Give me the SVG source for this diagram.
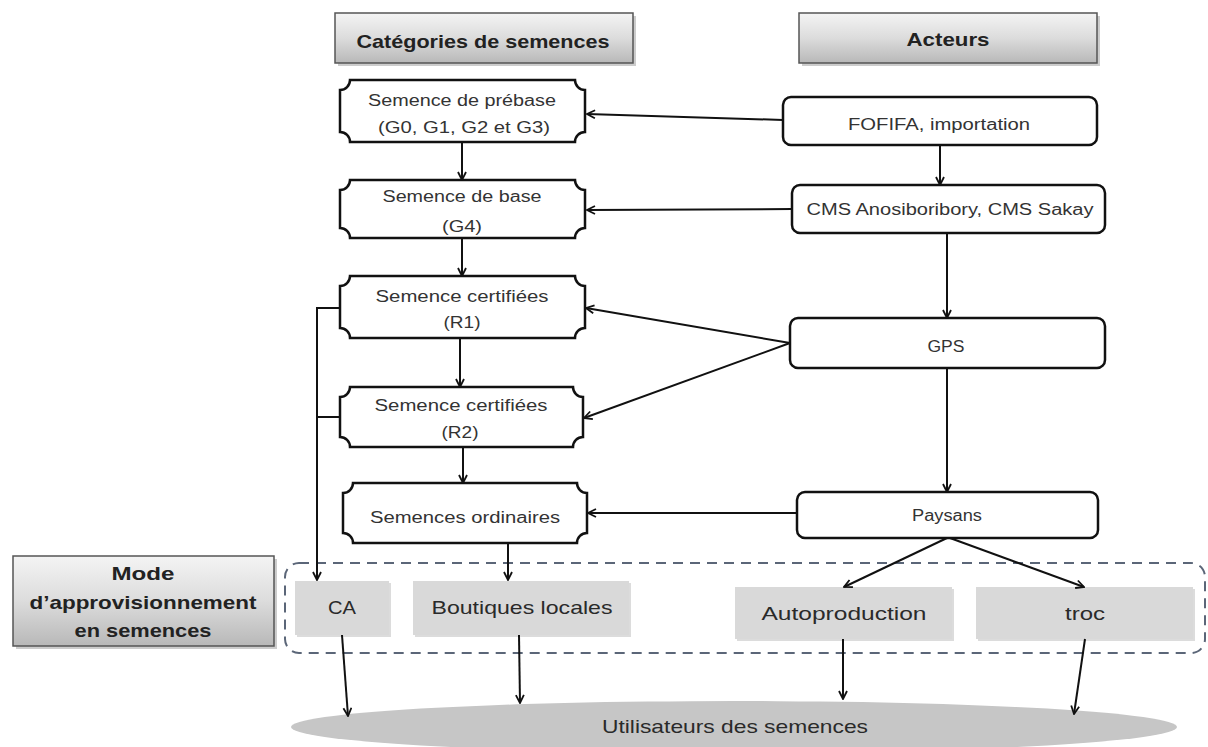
<svg xmlns="http://www.w3.org/2000/svg" width="1208" height="747" viewBox="0 0 1208 747">
<defs>
<linearGradient id="hdr" x1="0" y1="0" x2="0" y2="1">
<stop offset="0" stop-color="#f4f4f4"/>
<stop offset="0.5" stop-color="#dcdcdc"/>
<stop offset="1" stop-color="#b8b8b8"/>
</linearGradient>
<marker id="arr" viewBox="0 0 10 10" refX="9" refY="5" markerWidth="10" markerHeight="10" markerUnits="userSpaceOnUse" orient="auto">
<path d="M1,1 L9,5 L1,9" fill="none" stroke="#111" stroke-width="1.8"/>
</marker>
<style>
.hdr{fill:url(#hdr);stroke:#555;stroke-width:1.5}
.shadow{fill:#999;opacity:0.5}
.ht{font-family:"Liberation Sans",Arial,sans-serif;font-weight:bold;font-size:19px;fill:#222;text-anchor:middle}
.plq{fill:#fff;stroke:#111;stroke-width:2.5}
.act{fill:#fff;stroke:#111;stroke-width:2.5}
.nt{font-family:"Liberation Sans",Arial,sans-serif;font-size:16px;fill:#333;text-anchor:middle}
.gb{fill:#d9d9d9}
.gs{fill:#c4c4c4;opacity:0.6}
.bt{font-family:"Liberation Sans",Arial,sans-serif;font-size:19px;fill:#2a2a2a;text-anchor:middle}
.ln{fill:none;stroke:#111;stroke-width:2}
.ar{fill:none;stroke:#111;stroke-width:2;marker-end:url(#arr)}
</style>
</defs>

<!-- Headers -->
<g id="hdr-categories">
<rect class="shadow" x="338" y="16" width="298" height="50"/>
<rect class="hdr" x="335" y="13" width="298" height="50"/>
<text class="ht" x="483" y="48" textLength="253" lengthAdjust="spacingAndGlyphs">Catégories de semences</text>
</g>
<g id="hdr-acteurs">
<rect class="shadow" x="802" y="16" width="298" height="50"/>
<rect class="hdr" x="799" y="13" width="298" height="50"/>
<text class="ht" x="948" y="46" textLength="83" lengthAdjust="spacingAndGlyphs">Acteurs</text>
</g>
<g id="hdr-mode">
<rect class="shadow" x="16" y="559" width="261" height="90"/>
<rect class="hdr" x="13" y="556" width="261" height="90"/>
<text class="ht" x="143" y="580" textLength="63" lengthAdjust="spacingAndGlyphs">Mode</text>
<text class="ht" x="143" y="609" textLength="227" lengthAdjust="spacingAndGlyphs">d’approvisionnement</text>
<text class="ht" x="143" y="637" textLength="137" lengthAdjust="spacingAndGlyphs">en semences</text>
</g>

<!-- Dashed grouping -->
<g id="group-mode">
<rect x="285" y="563" width="920" height="90" rx="14" fill="none" stroke="#5b6678" stroke-width="2" stroke-dasharray="10 7"/>
</g>

<!-- Category nodes -->
<g id="n-prebase">
<path class="plq" d="M350,80 H575 A10,10 0 0 0 585,90 V132 A10,10 0 0 0 575,142 H350 A10,10 0 0 0 340,132 V90 A10,10 0 0 0 350,80 Z"/>
<text class="nt" x="462" y="106" textLength="188" lengthAdjust="spacingAndGlyphs">Semence de prébase</text>
<text class="nt" x="464" y="133" textLength="172" lengthAdjust="spacingAndGlyphs">(G0, G1, G2 et G3)</text>
</g>
<g id="n-base">
<path class="plq" d="M350,180 H575 A10,10 0 0 0 585,190 V228 A10,10 0 0 0 575,238 H350 A10,10 0 0 0 340,228 V190 A10,10 0 0 0 350,180 Z"/>
<text class="nt" x="462" y="202" textLength="159" lengthAdjust="spacingAndGlyphs">Semence de base</text>
<text class="nt" x="462" y="232" textLength="40" lengthAdjust="spacingAndGlyphs">(G4)</text>
</g>
<g id="n-r1">
<path class="plq" d="M350,276 H575 A10,10 0 0 0 585,286 V328 A10,10 0 0 0 575,338 H350 A10,10 0 0 0 340,328 V286 A10,10 0 0 0 350,276 Z"/>
<text class="nt" x="462" y="302" textLength="173" lengthAdjust="spacingAndGlyphs">Semence certifiées</text>
<text class="nt" x="462" y="328" textLength="37" lengthAdjust="spacingAndGlyphs">(R1)</text>
</g>
<g id="n-r2">
<path class="plq" d="M350,387 H573 A10,10 0 0 0 583,397 V437 A10,10 0 0 0 573,447 H350 A10,10 0 0 0 340,437 V397 A10,10 0 0 0 350,387 Z"/>
<text class="nt" x="461" y="411" textLength="173" lengthAdjust="spacingAndGlyphs">Semence certifiées</text>
<text class="nt" x="460" y="438" textLength="37" lengthAdjust="spacingAndGlyphs">(R2)</text>
</g>
<g id="n-ordinaires">
<path class="plq" d="M353,483 H577 A10,10 0 0 0 587,493 V533 A10,10 0 0 0 577,543 H353 A10,10 0 0 0 343,533 V493 A10,10 0 0 0 353,483 Z"/>
<text class="nt" x="465" y="523" textLength="190" lengthAdjust="spacingAndGlyphs">Semences ordinaires</text>
</g>

<!-- Actor nodes -->
<g id="n-fofifa">
<rect class="act" x="783" y="97" width="314" height="48" rx="8"/>
<text class="nt" x="939" y="130" textLength="182" lengthAdjust="spacingAndGlyphs">FOFIFA, importation</text>
</g>
<g id="n-cms">
<rect class="act" x="792" y="185" width="313" height="48" rx="8"/>
<text class="nt" x="950" y="215" textLength="287" lengthAdjust="spacingAndGlyphs">CMS Anosiboribory, CMS Sakay</text>
</g>
<g id="n-gps">
<rect class="act" x="790" y="318" width="315" height="50" rx="8"/>
<text class="nt" x="946" y="352" textLength="37" lengthAdjust="spacingAndGlyphs">GPS</text>
</g>
<g id="n-paysans">
<rect class="act" x="797" y="492" width="301" height="46" rx="8"/>
<text class="nt" x="947" y="521" textLength="70" lengthAdjust="spacingAndGlyphs">Paysans</text>
</g>

<!-- Supply mode nodes -->
<g id="n-ca">
<rect class="gs" x="297" y="583" width="94" height="54"/>
<rect class="gb" x="295" y="581" width="94" height="54"/>
<text class="bt" x="342" y="614" textLength="28" lengthAdjust="spacingAndGlyphs">CA</text>
</g>
<g id="n-boutiques">
<rect class="gs" x="415" y="583" width="216" height="54"/>
<rect class="gb" x="413" y="581" width="216" height="54"/>
<text class="bt" x="522" y="614" textLength="181" lengthAdjust="spacingAndGlyphs">Boutiques locales</text>
</g>
<g id="n-autoproduction">
<rect class="gs" x="737" y="589" width="217" height="52"/>
<rect class="gb" x="735" y="587" width="217" height="52"/>
<text class="bt" x="844" y="620" textLength="165" lengthAdjust="spacingAndGlyphs">Autoproduction</text>
</g>
<g id="n-troc">
<rect class="gs" x="978" y="589" width="217" height="52"/>
<rect class="gb" x="976" y="587" width="217" height="52"/>
<text class="bt" x="1085" y="620" textLength="40" lengthAdjust="spacingAndGlyphs">troc</text>
</g>

<!-- Users -->
<g id="n-utilisateurs">
<ellipse cx="734" cy="727" rx="443" ry="26" fill="#c6c6c6"/>
<text class="bt" x="735" y="733" font-size="20" fill="#333" textLength="266" lengthAdjust="spacingAndGlyphs">Utilisateurs des semences</text>
</g>

<!-- Connectors -->
<g id="connectors">
<line class="ar" x1="462" y1="142" x2="462" y2="180"/>
<line class="ar" x1="462" y1="238" x2="462" y2="276"/>
<line class="ar" x1="460" y1="338" x2="460" y2="387"/>
<line class="ar" x1="463" y1="447" x2="463" y2="483"/>
<line class="ar" x1="783" y1="120" x2="587" y2="114"/>
<line class="ar" x1="792" y1="209" x2="587" y2="210"/>
<line class="ar" x1="940" y1="145" x2="940" y2="185"/>
<line class="ar" x1="947" y1="233" x2="947" y2="318"/>
<line class="ar" x1="947" y1="368" x2="947" y2="492"/>
<line class="ar" x1="790" y1="343" x2="586" y2="308"/>
<line class="ar" x1="790" y1="343" x2="584" y2="418"/>
<line class="ar" x1="797" y1="513" x2="588" y2="513"/>
<line class="ar" x1="947" y1="538" x2="844" y2="587"/>
<line class="ar" x1="950" y1="538" x2="1084" y2="587"/>
<path class="ln" d="M340,308 H317 V560"/>
<line class="ln" x1="317" y1="417" x2="340" y2="417"/>
<line class="ar" x1="317" y1="555" x2="317" y2="580"/>
<line class="ar" x1="508" y1="543" x2="508" y2="580"/>
<line class="ar" x1="342" y1="635" x2="348" y2="716"/>
<line class="ar" x1="519" y1="635" x2="520" y2="703"/>
<line class="ar" x1="843" y1="639" x2="843" y2="699"/>
<line class="ar" x1="1085" y1="639" x2="1074" y2="714"/>
</g>
</svg>
